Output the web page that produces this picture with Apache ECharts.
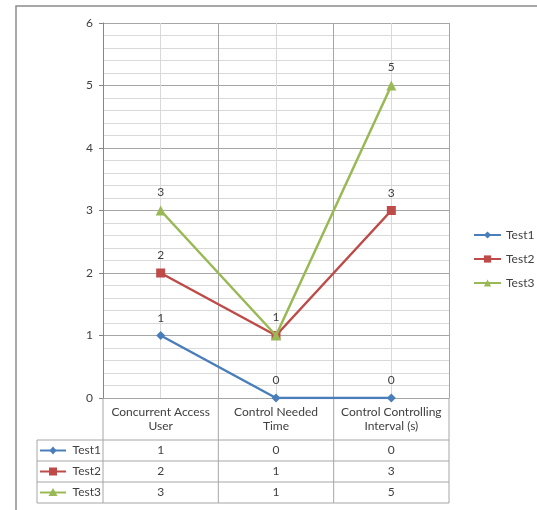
<!DOCTYPE html>
<html><head><meta charset="utf-8">
<script src="https://cdn.jsdelivr.net/npm/echarts@6/dist/echarts.min.js"></script>
<style>html,body{margin:0;padding:0;background:#fff}#c{width:537px;height:510px}</style>
</head><body><div id="c"></div>
<script>
const categories = ['Concurrent Access\nUser', 'Control Needed\nTime', 'Control Controlling\nInterval (s)'];
const seriesNames = ['Test1', 'Test2', 'Test3'];
const test1 = [1, 0, 0];
const test2 = [2, 1, 3];
const test3 = [3, 1, 5];
const yMin = 0, yMax = 6, yInterval = 1;

const values = [test1, test2, test3];
const colors = ['#4A7EBB', '#BE4B48', '#98B954'];
const symbols = ['diamond', 'rect', 'triangle'];
const symbolSizes = [9, 9, 10];
const FONT = 'Lato, "Open Sans", sans-serif';
const TXT = '#404040';
const GRID_DARK = '#a6a6a6';
const GRID_LIGHT = '#d9d9d9';

const chart = echarts.init(document.getElementById('c'), null, {renderer: 'canvas'});

const option = {
  animation: false,
  backgroundColor: '#fff',
  textStyle: {fontFamily: FONT},
  grid: {left: 103, top: 23, right: 88, bottom: 112, containLabel: false},
  legend: {
    orient: 'vertical', left: 468, top: 224,
    itemWidth: 27, itemHeight: 9, itemGap: 12,
    textStyle: {fontSize: 12, color: TXT, fontFamily: FONT},
    data: seriesNames
  },
  xAxis: [
    {
      type: 'category', data: categories, boundaryGap: true,
      axisLine: {show: true, lineStyle: {color: GRID_DARK, width: 1}},
      axisTick: {show: false},
      axisLabel: {fontSize: 12, color: TXT, lineHeight: 14, margin: 7, fontFamily: FONT, interval: 0},
      splitLine: {show: false}
    },
    {
      type: 'value', min: 0, max: 2 * categories.length, interval: 1, position: 'top',
      axisLine: {show: false}, axisTick: {show: false}, axisLabel: {show: false},
      splitLine: {show: true, lineStyle: {color: [GRID_DARK, GRID_LIGHT], width: 1}}
    }
  ],
  yAxis: {
    type: 'value', min: yMin, max: yMax, interval: yInterval,
    axisLine: {show: true, lineStyle: {color: '#868686'}},
    axisTick: {show: true, length: 4, lineStyle: {color: '#868686'}},
    axisLabel: {fontSize: 12, color: TXT, margin: 10, fontFamily: FONT},
    splitLine: {show: true, lineStyle: {color: GRID_DARK, width: 1}},
    minorTick: {show: false, splitNumber: 5},
    minorSplitLine: {show: true, lineStyle: {color: GRID_LIGHT, width: 1}}
  },
  series: seriesNames.map((n, i) => ({
    name: n, type: 'line', data: values[i],
    xAxisIndex: 0, yAxisIndex: 0,
    symbol: symbols[i], symbolSize: symbolSizes[i], showAllSymbol: true,
    itemStyle: {color: colors[i]},
    lineStyle: {color: colors[i], width: 2.5},
    label: {show: true, position: 'top', distance: 7, color: TXT, fontSize: 12, fontFamily: FONT},
    labelLayout: {hideOverlap: true},
    z: 2 + i
  }))
};
chart.setOption(option);

// Data table under the plot
function buildTable() {
  const xs = [];
  for (let k = 0; k <= categories.length; k++) xs.push(chart.convertToPixel({xAxisIndex: 1}, 2 * k));
  const centers = categories.map((_, k) => chart.convertToPixel({xAxisIndex: 1}, 2 * k + 1));
  const yAxisBottom = chart.convertToPixel({yAxisIndex: 0}, yMin);
  const catRowBottom = yAxisBottom + 42;
  const rowH = 21;
  const tableLeft = 37;
  const tableBottom = catRowBottom + rowH * seriesNames.length;
  const els = [];
  const ln = (x1, y1, x2, y2) => els.push({type: 'line', shape: {x1, y1, x2, y2}, style: {stroke: GRID_DARK, lineWidth: 1}, silent: true, z: 1});
  xs.forEach(x => ln(x, yAxisBottom, x, tableBottom));
  ln(tableLeft, catRowBottom, tableLeft, tableBottom);
  for (let r = 0; r <= seriesNames.length; r++) {
    const y = catRowBottom + r * rowH;
    ln(tableLeft, y, xs[xs.length - 1], y);
  }
  seriesNames.forEach((n, r) => {
    const cy = catRowBottom + r * rowH + rowH / 2;
    els.push({type: 'line', shape: {x1: 40, y1: cy, x2: 66, y2: cy}, style: {stroke: colors[r], lineWidth: 2}, z: 2});
    const mx = 53;
    if (symbols[r] === 'diamond') {
      els.push({type: 'polygon', shape: {points: [[mx, cy - 4], [mx + 3.5, cy], [mx, cy + 4], [mx - 3.5, cy]]}, style: {fill: colors[r]}, z: 3});
    } else if (symbols[r] === 'rect') {
      els.push({type: 'rect', shape: {x: mx - 4, y: cy - 4, width: 8, height: 8}, style: {fill: colors[r]}, z: 3});
    } else {
      els.push({type: 'polygon', shape: {points: [[mx, cy - 4.5], [mx + 4.5, cy + 3.5], [mx - 4.5, cy + 3.5]]}, style: {fill: colors[r]}, z: 3});
    }
    els.push({type: 'text', x: 101, y: cy, style: {text: n, fill: TXT, font: '12px ' + FONT, align: 'right', verticalAlign: 'middle'}, z: 3});
    values[r].forEach((v, k) => {
      els.push({type: 'text', x: centers[k], y: cy, style: {text: String(v), fill: TXT, font: '12px ' + FONT, align: 'center', verticalAlign: 'middle'}, z: 3});
    });
  });
  els.push({type: 'rect', shape: {x: 16, y: 6, width: 600, height: 600}, style: {fill: 'none', stroke: '#8c8c8c', lineWidth: 1.5}, silent: true, z: 0});
  chart.setOption({graphic: {elements: els}});
}
buildTable();
</script>
</body></html>
